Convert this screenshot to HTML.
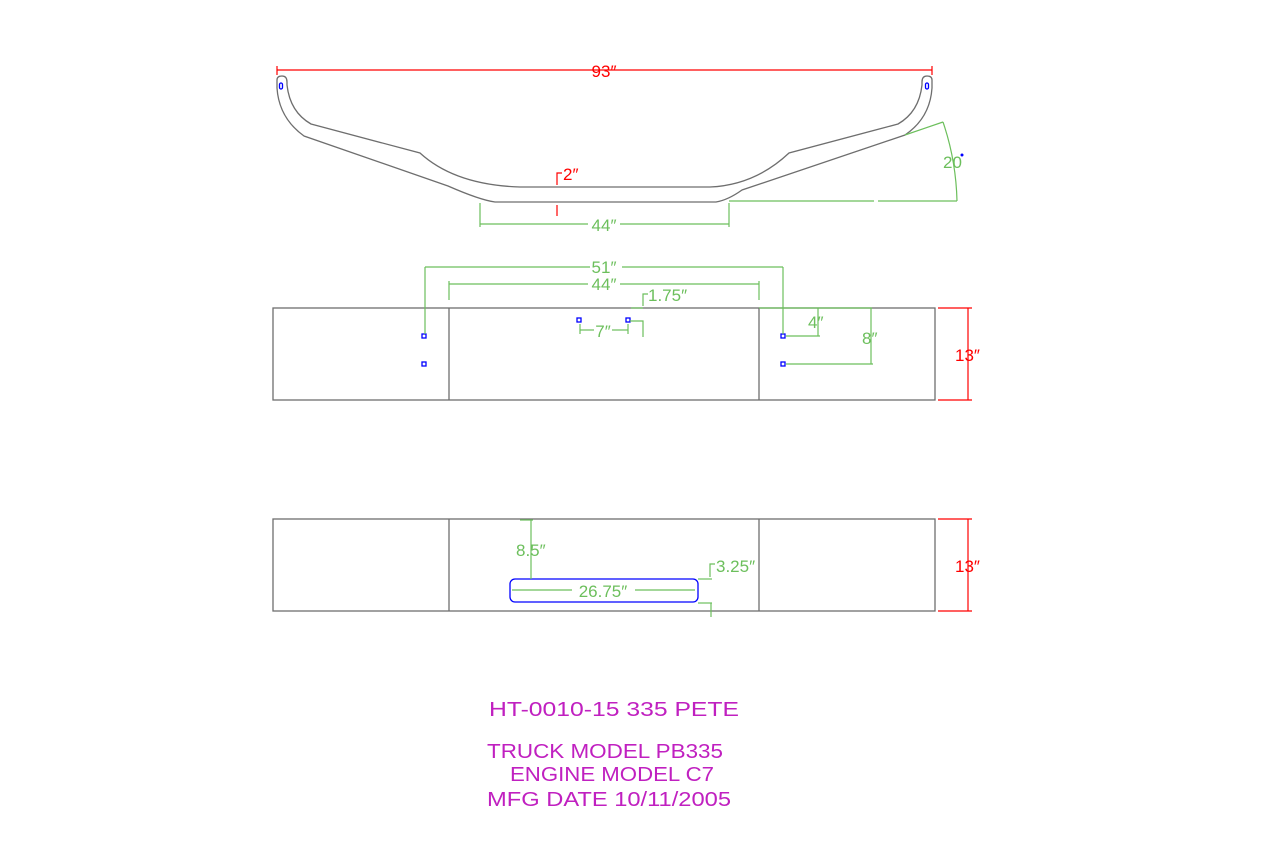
<!DOCTYPE html>
<html><head><meta charset="utf-8"><style>
html,body{margin:0;padding:0;background:#fff;}
svg{display:block;}
text{font-family:"Liberation Sans",sans-serif;}
</style></head><body>
<svg width="1280" height="853" viewBox="0 0 1280 853" xmlns="http://www.w3.org/2000/svg">
<g fill="none" stroke="#6e6e6e" stroke-width="1.3">
<path d="M277,80 Q277,76 282,76 Q287,76 287,82 L287,85 Q290,112 311,124 L420,153 Q455,185 520,187 L710,187 Q755,185 789,153 L898,124 Q919,112 922,85 L922,82 Q922,76 927,76 Q932,76 932,80 L932,88 Q930,118 905,135 L742,190 Q728,200 716,202 L495,202 Q480,200 448,186 L304,136 Q279,118 277,88 Z"/>
<rect x="273" y="308" width="662" height="92"/>
<line x1="449" y1="308" x2="449" y2="400"/>
<line x1="759" y1="308" x2="759" y2="400"/>
<rect x="273" y="519" width="662" height="92"/>
<line x1="449" y1="519" x2="449" y2="611"/>
<line x1="759" y1="519" x2="759" y2="611"/>
</g>
<g fill="none" stroke="#0000ff" stroke-width="1.3">
<rect x="279.5" y="83" width="3" height="6" rx="1.5"/>
<rect x="925.5" y="83" width="3" height="6" rx="1.5"/>
<rect x="422" y="334" width="4" height="4"/>
<rect x="422" y="362" width="4" height="4"/>
<rect x="577" y="318" width="4" height="4"/>
<rect x="626" y="318" width="4" height="4"/>
<rect x="781" y="334" width="4" height="4"/>
<rect x="781" y="362" width="4" height="4"/>
<rect x="510" y="579" width="188" height="23" rx="5"/>
</g>
<circle cx="962" cy="155" r="1.5" fill="#0000ff"/>
<g stroke="#ff0000" stroke-width="1.2" fill="none">
<line x1="277" y1="70" x2="932" y2="70"/>
<line x1="277" y1="66" x2="277" y2="75"/>
<line x1="932" y1="66" x2="932" y2="75"/>
<polyline points="557,185 557,173 562,173"/>
<line x1="557" y1="205" x2="557" y2="216"/>
<line x1="968" y1="308" x2="968" y2="400"/>
<line x1="938" y1="308" x2="972" y2="308"/>
<line x1="938" y1="400" x2="972" y2="400"/>
<line x1="968" y1="519" x2="968" y2="611"/>
<line x1="938" y1="519" x2="972" y2="519"/>
<line x1="938" y1="611" x2="972" y2="611"/>
</g>
<g fill="#ff0000" font-size="17">
<text x="604" y="77" text-anchor="middle">93″</text>
<text x="563" y="180">2″</text>
<text x="955" y="361">13″</text>
<text x="955" y="572">13″</text>
</g>
<g stroke="#6cbf5c" stroke-width="1.2" fill="none">
<line x1="905" y1="135" x2="943" y2="122"/>
<path d="M943,122 Q956,160 957,201"/>
<line x1="729" y1="201" x2="874" y2="201"/>
<line x1="878" y1="201" x2="957" y2="201"/>
<line x1="480" y1="203" x2="480" y2="227"/>
<line x1="729" y1="203" x2="729" y2="227"/>
<line x1="480" y1="224" x2="588" y2="224"/>
<line x1="620" y1="224" x2="729" y2="224"/>
<line x1="425" y1="267" x2="590" y2="267"/>
<line x1="622" y1="267" x2="783" y2="267"/>
<line x1="425" y1="267" x2="425" y2="334"/>
<line x1="783" y1="267" x2="783" y2="334"/>
<line x1="449" y1="284" x2="588" y2="284"/>
<line x1="620" y1="284" x2="759" y2="284"/>
<line x1="449" y1="281" x2="449" y2="300"/>
<line x1="759" y1="281" x2="759" y2="300"/>
<polyline points="643,306 643,294 648,294"/>
<line x1="631" y1="308" x2="643" y2="308"/>
<polyline points="630,321 643,321 643,337"/>
<line x1="580" y1="330" x2="594" y2="330"/>
<line x1="612" y1="330" x2="628" y2="330"/>
<line x1="580" y1="324" x2="580" y2="334"/>
<line x1="628" y1="324" x2="628" y2="334"/>
<line x1="759" y1="308" x2="872" y2="308"/>
<line x1="818" y1="308" x2="818" y2="336"/>
<line x1="786" y1="336" x2="820" y2="336"/>
<line x1="871" y1="308" x2="871" y2="364"/>
<line x1="786" y1="364" x2="873" y2="364"/>
<line x1="531" y1="520" x2="531" y2="579"/>
<line x1="520" y1="520" x2="533" y2="520"/>
<line x1="512" y1="590" x2="572" y2="590"/>
<line x1="635" y1="590" x2="695" y2="590"/>
<polyline points="710,577 710,564 715,564"/>
<line x1="698" y1="579" x2="712" y2="579"/>
<line x1="698" y1="603" x2="712" y2="603"/>
<line x1="711" y1="603" x2="711" y2="617"/>
</g>
<g fill="#6cbf5c" font-size="17">
<text x="604" y="231" text-anchor="middle">44″</text>
<text x="604" y="273" text-anchor="middle">51″</text>
<text x="604" y="290" text-anchor="middle">44″</text>
<text x="648" y="301">1.75″</text>
<text x="603" y="337" text-anchor="middle">7″</text>
<text x="808" y="328">4″</text>
<text x="862" y="344">8″</text>
<text x="943" y="168">20</text>
<text x="516" y="556">8.5″</text>
<text x="603" y="597" text-anchor="middle">26.75″</text>
<text x="716" y="572">3.25″</text>
</g>
<g fill="#c020c0" font-size="20">
<text x="489" y="716" textLength="250" lengthAdjust="spacingAndGlyphs">HT-0010-15 335 PETE</text>
<text x="487" y="758" textLength="236" lengthAdjust="spacingAndGlyphs">TRUCK MODEL PB335</text>
<text x="510" y="781" textLength="204" lengthAdjust="spacingAndGlyphs">ENGINE MODEL C7</text>
<text x="487" y="806" textLength="244" lengthAdjust="spacingAndGlyphs">MFG DATE 10/11/2005</text>
</g>
</svg>
</body></html>
